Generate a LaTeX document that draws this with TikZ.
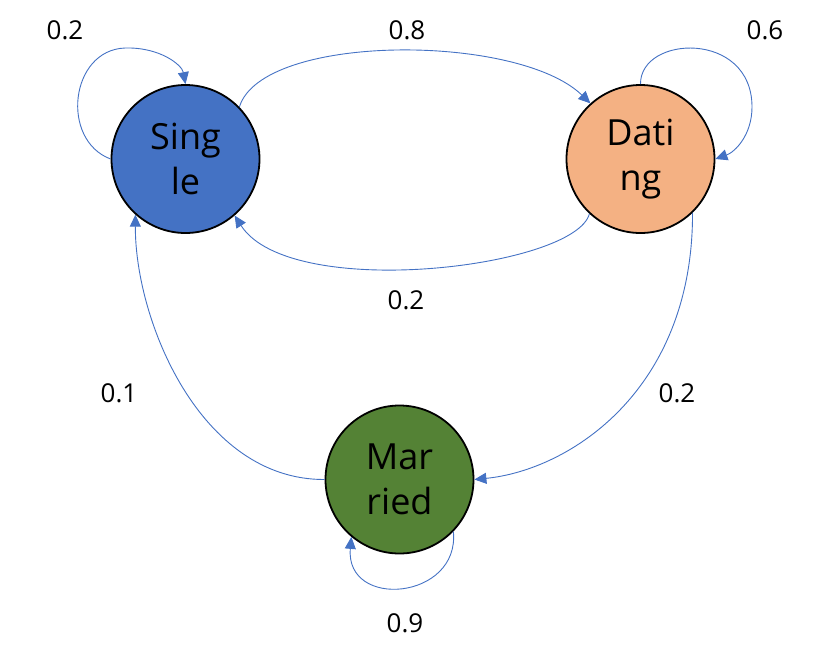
\documentclass[tikz,border=0pt]{standalone}
\usepackage{fontspec}
\setmainfont{Open Sans}
\usetikzlibrary{arrows.meta}
\definecolor{singlec}{HTML}{4472C4}
\definecolor{datingc}{HTML}{F4B183}
\definecolor{marriedc}{HTML}{548235}
\definecolor{edgec}{HTML}{4472C4}
\begin{document}
\begin{tikzpicture}[x=1pt,y=-1pt,
  state/.style={circle,draw=black,line width=1.8pt,minimum size=148pt,inner sep=0pt,align=center,font=\fontsize{36}{45}\selectfont},
  trans/.style={draw=edgec,line width=0.9pt,-{Triangle[length=12pt,width=11pt]}},
  prob/.style={font=\fontsize{26}{30}\selectfont,inner sep=0pt}]
\useasboundingbox (0,0) rectangle (833,657);
\node[state,fill=singlec] (S) at (185.5,159) {Sing\\le};
\node[state,fill=datingc] (D) at (640.5,159) {Dati\\ng};
\node[state,fill=marriedc] (M) at (399.5,479.5) {Mar\\ried};
% self loops
\draw[trans] (S.180) .. controls (60,140) and (70,50) .. (125,48) .. controls (160,47) and (182,65) .. (S.90);
\draw[trans] (D.90) .. controls (640,35) and (752,30) .. (752,107) .. controls (752,135) and (735,152) .. (D.0);
\draw[trans] (M.-44) .. controls (460,600) and (345,610) .. (M.230);
% transitions
\draw[trans] (S.44) .. controls (262,33) and (518,33) .. (D.132);
\draw[trans] (D.227) .. controls (575,268) and (290,302) .. (S.-49);
\draw[trans] (D.-46) .. controls (693,390) and (570,470) .. (M.0);
\draw[trans] (M.180) .. controls (200,480) and (135,320) .. (S.228);
% labels
\node[prob] (l1) at (65,30) {0.2};
\node[prob] (l2) at (407,30) {0.8};
\node[prob] (l3) at (765,30) {0.6};
\node[prob] (l4) at (406,300) {0.2};
\node[prob] (l5) at (119,393) {0.1};
\node[prob] (l6) at (677,393) {0.2};
\node[prob] (l7) at (405,623) {0.9};
\end{tikzpicture}
\end{document}
